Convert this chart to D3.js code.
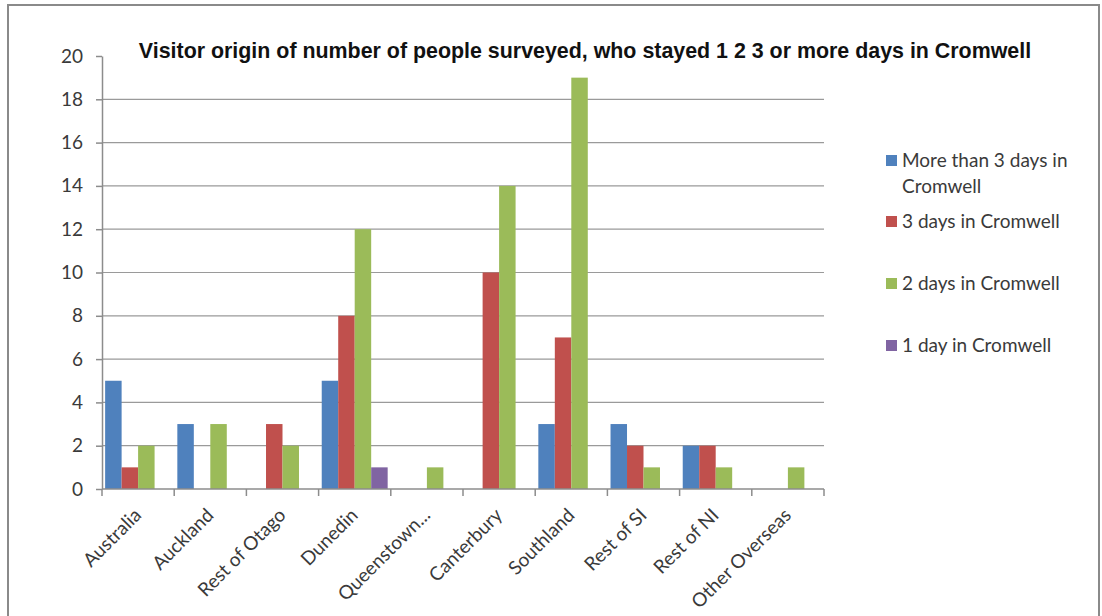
<!DOCTYPE html>
<html>
<head>
<meta charset="utf-8">
<script src="https://cdn.jsdelivr.net/npm/d3@7"></script>
<style>
  html, body { margin: 0; padding: 0; background: #fff; }
  svg { display: block; }
</style>
</head>
<body>
<svg id="chart" width="1102" height="616"></svg>
<script>
// Visitor origins and the number of people in each length-of-stay group
const categories = ["Australia", "Auckland", "Rest of Otago", "Dunedin", "Queenstown...",
  "Canterbury", "Southland", "Rest of SI", "Rest of NI", "Other Overseas"];
const seriesNames = ["More than 3 days in Cromwell", "3 days in Cromwell",
  "2 days in Cromwell", "1 day in Cromwell"];
const moreThan3Days = [5, 3, 0, 5, 0, 0, 3, 3, 2, 0];
const threeDays     = [1, 0, 3, 8, 0, 10, 7, 2, 2, 0];
const twoDays       = [2, 3, 2, 12, 1, 14, 19, 1, 1, 1];
const oneDay        = [0, 0, 0, 1, 0, 0, 0, 0, 0, 0];
const yTicks = [0, 2, 4, 6, 8, 10, 12, 14, 16, 18, 20];
const titleText = "Visitor origin of number of people surveyed, who stayed 1 2 3 or more days in Cromwell";

const seriesValues = [moreThan3Days, threeDays, twoDays, oneDay];
const colors = ["#4F81BD", "#C0504D", "#9BBB59", "#8064A2"];

const svg = d3.select("#chart");
const labelFont = "Lato, 'Open Sans', sans-serif";
const labelSize = 19;
const labelColor = "#3a3a3a";
const axisColor = "#8c8c8c";

// Outer chart frame
svg.append("rect")
  .attr("x", 8).attr("y", 5)
  .attr("width", 1091).attr("height", 640)
  .attr("fill", "#fff")
  .attr("stroke", "#8a8a8a").attr("stroke-width", 2);

const plot = { left: 102, right: 824, top: 56, bottom: 489 };

const x0 = d3.scaleBand()
  .domain(categories)
  .range([plot.left, plot.right])
  .paddingInner(0).paddingOuter(0);

const x1 = d3.scaleBand()
  .domain(d3.range(seriesNames.length))
  .range([0, x0.bandwidth()])
  .paddingOuter(0.19);

const y = d3.scaleLinear().domain([0, 20]).range([plot.bottom, plot.top]);

// Horizontal gridlines
svg.append("g")
  .selectAll("line")
  .data(yTicks.filter(t => t > 0 && t < 20))
  .join("line")
  .attr("x1", plot.left).attr("x2", plot.right)
  .attr("y1", d => y(d)).attr("y2", d => y(d))
  .attr("stroke", "#9a9a9a").attr("stroke-width", 1.2);

// Bars
const groups = svg.append("g")
  .selectAll("g")
  .data(categories)
  .join("g")
  .attr("transform", d => `translate(${x0(d)},0)`);

groups.selectAll("rect")
  .data((d, i) => seriesValues.map((vals, s) => ({ s, v: vals[i] })))
  .join("rect")
  .attr("x", d => x1(d.s))
  .attr("width", x1.bandwidth())
  .attr("y", d => y(d.v))
  .attr("height", d => y(0) - y(d.v))
  .attr("fill", d => colors[d.s]);

// Y axis
const yAxis = svg.append("g")
  .attr("transform", `translate(${plot.left},0)`)
  .call(d3.axisLeft(y).tickValues(yTicks).tickSize(6).tickPadding(13).tickSizeOuter(0));
yAxis.select(".domain").attr("stroke", axisColor).attr("stroke-width", 1.5);
yAxis.selectAll(".tick line").attr("stroke", axisColor).attr("stroke-width", 1.5);
yAxis.selectAll(".tick text")
  .attr("font-family", labelFont).attr("font-size", labelSize).attr("fill", labelColor);

// X axis with ticks at category boundaries
const xAxis = svg.append("g")
  .attr("transform", `translate(0,${plot.bottom})`);
xAxis.append("line")
  .attr("x1", plot.left).attr("x2", plot.right)
  .attr("stroke", axisColor).attr("stroke-width", 1.5);
const boundaries = categories.map(c => x0(c)).concat([plot.right]);
xAxis.selectAll("line.tk")
  .data(boundaries)
  .join("line")
  .attr("class", "tk")
  .attr("x1", d => d).attr("x2", d => d)
  .attr("y1", 0).attr("y2", 7)
  .attr("stroke", axisColor).attr("stroke-width", 1.5);
xAxis.selectAll("text")
  .data(categories)
  .join("text")
  .attr("transform", d => `translate(${x0(d) + x0.bandwidth() / 2 - 5},${18}) rotate(-45)`)
  .attr("text-anchor", "end")
  .attr("dy", "0.7em")
  .attr("font-family", labelFont).attr("font-size", labelSize).attr("fill", labelColor)
  .text(d => d);

// Title
svg.append("text")
  .attr("x", 585).attr("y", 58)
  .attr("text-anchor", "middle")
  .attr("font-family", "'Liberation Sans', Arial, sans-serif")
  .attr("font-weight", "bold").attr("font-size", 21.4)
  .attr("fill", "#111")
  .text(titleText);

// Legend
const legendRows = [
  { lines: ["More than 3 days in", "Cromwell"], cy: 160 },
  { lines: ["3 days in Cromwell"], cy: 221 },
  { lines: ["2 days in Cromwell"], cy: 283 },
  { lines: ["1 day in Cromwell"], cy: 345 }
];
const legend = svg.append("g");
legendRows.forEach((row, i) => {
  legend.append("rect")
    .attr("x", 886).attr("y", row.cy - 5)
    .attr("width", 11).attr("height", 11)
    .attr("fill", colors[i]);
  row.lines.forEach((ln, j) => {
    legend.append("text")
      .attr("x", 902).attr("y", row.cy + 7 + j * 26)
      .attr("font-family", labelFont).attr("font-size", labelSize).attr("fill", labelColor)
      .text(ln);
  });
});
</script>
</body>
</html>
